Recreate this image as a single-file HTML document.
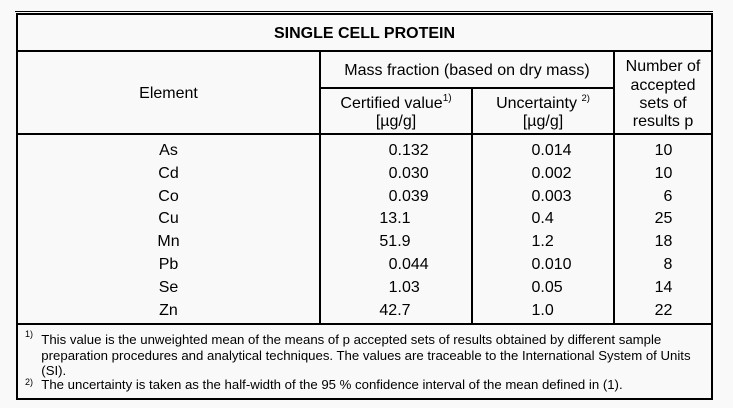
<!DOCTYPE html>
<html><head><meta charset="utf-8"><style>
html,body{margin:0;padding:0;}
body{width:733px;height:408px;background:#f9f9f9;position:relative;overflow:hidden;font-family:"Liberation Sans",Arial,sans-serif;color:#000;}
.h{position:absolute;background:#000;height:2px;}
.v{position:absolute;background:#000;width:2px;}
.t{position:absolute;white-space:nowrap;font-size:16px;line-height:20px;height:20px;}
.c{width:300px;text-align:center;}
.f{position:absolute;white-space:nowrap;font-size:13.2px;line-height:15px;height:15px;left:41.3px;}
.m{position:absolute;white-space:nowrap;font-size:9px;line-height:10px;left:25px;}
sup{font-size:10px;vertical-align:baseline;position:relative;top:-7px;}
</style></head><body>
<!-- lines -->
<div class="h" style="left:15px;top:11px;width:698px;height:1px;"></div>
<div class="h" style="left:16px;top:13px;width:697px;"></div>
<div class="h" style="left:16px;top:50px;width:697px;"></div>
<div class="h" style="left:319px;top:87px;width:296px;"></div>
<div class="h" style="left:16px;top:133px;width:697px;"></div>
<div class="h" style="left:16px;top:323px;width:697px;"></div>
<div class="h" style="left:16px;top:398px;width:697px;"></div>
<div class="v" style="left:16px;top:13px;height:387px;"></div>
<div class="v" style="left:711px;top:13px;height:387px;"></div>
<div class="v" style="left:319px;top:50px;height:275px;"></div>
<div class="v" style="left:471px;top:87px;height:238px;"></div>
<div class="v" style="left:613px;top:50px;height:275px;"></div>

<!-- header -->
<div class="t c" style="left:214.5px;top:23.5px;font-weight:bold;">SINGLE CELL PROTEIN</div>
<div class="t c" style="left:18.5px;top:84px;">Element</div>
<div class="t c" style="left:317px;top:61.2px;">Mass fraction (based on dry mass)</div>
<div class="t c" style="left:246px;top:94.2px;">Certified value<sup>1)</sup></div>
<div class="t c" style="left:246px;top:112.4px;">[µg/g]</div>
<div class="t c" style="left:393px;top:93.6px;">Uncertainty <sup style="font-size:9.5px">2)</sup></div>
<div class="t c" style="left:393px;top:112.4px;">[µg/g]</div>
<div class="t c" style="left:513px;top:57.4px;">Number of</div>
<div class="t c" style="left:513px;top:75.6px;">accepted</div>
<div class="t c" style="left:513px;top:93.7px;">sets of</div>
<div class="t c" style="left:513px;top:111.9px;">results p</div>

<!-- data: element -->
<div class="t c" style="left:18.5px;top:140.7px;">As</div>
<div class="t c" style="left:18.5px;top:163.6px;">Cd</div>
<div class="t c" style="left:18.5px;top:186.5px;">Co</div>
<div class="t c" style="left:18.5px;top:209.4px;">Cu</div>
<div class="t c" style="left:18.5px;top:232.3px;">Mn</div>
<div class="t c" style="left:18.5px;top:255.2px;">Pb</div>
<div class="t c" style="left:18.5px;top:278.1px;">Se</div>
<div class="t c" style="left:18.5px;top:301px;">Zn</div>

<!-- certified -->
<div class="t" style="left:388.6px;top:140.7px;">0.132</div>
<div class="t" style="left:388.6px;top:163.6px;">0.030</div>
<div class="t" style="left:388.6px;top:186.5px;">0.039</div>
<div class="t" style="left:379.4px;top:209.4px;">13.1</div>
<div class="t" style="left:379.4px;top:232.3px;">51.9</div>
<div class="t" style="left:388.6px;top:255.2px;">0.044</div>
<div class="t" style="left:388.6px;top:278.1px;">1.03</div>
<div class="t" style="left:379.4px;top:301px;">42.7</div>

<!-- uncertainty -->
<div class="t" style="left:531.5px;top:140.7px;">0.014</div>
<div class="t" style="left:531.5px;top:163.6px;">0.002</div>
<div class="t" style="left:531.5px;top:186.5px;">0.003</div>
<div class="t" style="left:531.5px;top:209.4px;">0.4</div>
<div class="t" style="left:531.5px;top:232.3px;">1.2</div>
<div class="t" style="left:531.5px;top:255.2px;">0.010</div>
<div class="t" style="left:531.5px;top:278.1px;">0.05</div>
<div class="t" style="left:531.5px;top:301px;">1.0</div>

<!-- number -->
<div class="t" style="right:60.6px;top:140.7px;">10</div>
<div class="t" style="right:60.6px;top:163.6px;">10</div>
<div class="t" style="right:60.6px;top:186.5px;">6</div>
<div class="t" style="right:60.6px;top:209.4px;">25</div>
<div class="t" style="right:60.6px;top:232.3px;">18</div>
<div class="t" style="right:60.6px;top:255.2px;">8</div>
<div class="t" style="right:60.6px;top:278.1px;">14</div>
<div class="t" style="right:60.6px;top:301px;">22</div>

<!-- footnotes -->
<div class="m" style="top:329px;">1)</div>
<div class="f" style="top:331.8px;">This value is the unweighted mean of the means of p accepted sets of results obtained by different sample</div>
<div class="f" style="top:347.8px;">preparation procedures and analytical techniques. The values are traceable to the International System of Units</div>
<div class="f" style="top:362.5px;">(SI).</div>
<div class="m" style="top:376.6px;">2)</div>
<div class="f" style="top:376.5px;">The uncertainty is taken as the half-width of the 95 % confidence interval of the mean defined in (1).</div>
</body></html>
